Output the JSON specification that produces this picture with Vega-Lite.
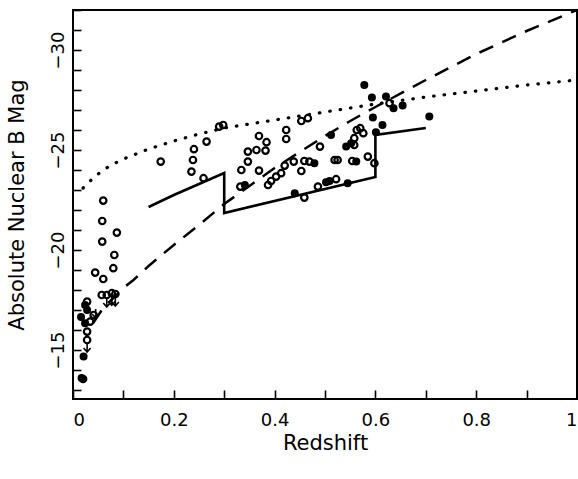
{
  "$schema": "https://vega.github.io/schema/vega-lite/v6.json",
  "width": 504,
  "height": 389,
  "autosize": "none",
  "padding": {"left": 73, "top": 10, "right": 1, "bottom": 80},
  "background": "white",
  "config": {
    "view": {"stroke": "black", "strokeWidth": 2},
    "axis": {
      "domain": false, "grid": false,
      "labelFont": "DejaVu Sans", "titleFont": "DejaVu Sans",
      "labelColor": "black", "titleColor": "black", "tickColor": "black",
      "labelFontSize": 18, "titleFontSize": 21, "titleFontWeight": "normal",
      "tickWidth": 1.6
    }
  },
  "datasets": {
    "dotted": [
      {"z": 0.02, "mag": -23.1}, {"z": 0.04, "mag": -23.6}, {"z": 0.06, "mag": -24.0},
      {"z": 0.08, "mag": -24.3}, {"z": 0.1, "mag": -24.55}, {"z": 0.15, "mag": -25.05},
      {"z": 0.2, "mag": -25.45}, {"z": 0.25, "mag": -25.8}, {"z": 0.3, "mag": -26.1},
      {"z": 0.35, "mag": -26.3}, {"z": 0.4, "mag": -26.5}, {"z": 0.45, "mag": -26.7},
      {"z": 0.5, "mag": -26.9}, {"z": 0.6, "mag": -27.3}, {"z": 0.7, "mag": -27.65},
      {"z": 0.8, "mag": -27.95}, {"z": 0.9, "mag": -28.25}, {"z": 1.0, "mag": -28.5}
    ],
    "dashed": [
      {"z": 0.04, "mag": -16.35}, {"z": 0.06, "mag": -17.1}, {"z": 0.08, "mag": -17.6},
      {"z": 0.1, "mag": -18.1}, {"z": 0.12, "mag": -18.5}, {"z": 0.15, "mag": -19.2},
      {"z": 0.2, "mag": -20.25}, {"z": 0.25, "mag": -21.25}, {"z": 0.3, "mag": -22.3},
      {"z": 0.35, "mag": -23.2}, {"z": 0.4, "mag": -24.1}, {"z": 0.45, "mag": -24.9},
      {"z": 0.5, "mag": -25.7}, {"z": 0.55, "mag": -26.45}, {"z": 0.6, "mag": -27.15},
      {"z": 0.7, "mag": -28.5}, {"z": 0.8, "mag": -29.8}, {"z": 0.9, "mag": -30.95},
      {"z": 1.0, "mag": -32.0}
    ],
    "solid": [
      {"i": 1, "z": 0.15, "mag": -22.15}, {"i": 2, "z": 0.2, "mag": -22.75},
      {"i": 3, "z": 0.25, "mag": -23.3}, {"i": 4, "z": 0.3, "mag": -23.85},
      {"i": 5, "z": 0.3, "mag": -21.85}, {"i": 6, "z": 0.6, "mag": -23.65},
      {"i": 7, "z": 0.6, "mag": -25.75}, {"i": 8, "z": 0.7, "mag": -26.1}
    ],
    "open": [
      {"z": 0.174, "mag": -24.42}, {"z": 0.24, "mag": -25.04}, {"z": 0.238, "mag": -24.5},
      {"z": 0.235, "mag": -23.92}, {"z": 0.29, "mag": -26.17}, {"z": 0.298, "mag": -26.25},
      {"z": 0.265, "mag": -25.42}, {"z": 0.259, "mag": -23.59}, {"z": 0.369, "mag": -25.7},
      {"z": 0.384, "mag": -25.39}, {"z": 0.347, "mag": -24.92}, {"z": 0.364, "mag": -25.0},
      {"z": 0.382, "mag": -24.97}, {"z": 0.347, "mag": -24.42}, {"z": 0.334, "mag": -24.0},
      {"z": 0.369, "mag": -23.97}, {"z": 0.332, "mag": -23.17}, {"z": 0.387, "mag": -23.25},
      {"z": 0.453, "mag": -26.45}, {"z": 0.466, "mag": -26.59}, {"z": 0.423, "mag": -26.0},
      {"z": 0.423, "mag": -25.55}, {"z": 0.49, "mag": -25.17}, {"z": 0.558, "mag": -25.59},
      {"z": 0.563, "mag": -26.0}, {"z": 0.438, "mag": -24.42}, {"z": 0.42, "mag": -24.22},
      {"z": 0.413, "mag": -23.84}, {"z": 0.403, "mag": -23.67}, {"z": 0.393, "mag": -23.45},
      {"z": 0.459, "mag": -24.45}, {"z": 0.469, "mag": -24.42}, {"z": 0.453, "mag": -23.95},
      {"z": 0.519, "mag": -24.5}, {"z": 0.525, "mag": -24.5}, {"z": 0.554, "mag": -24.45},
      {"z": 0.459, "mag": -22.62}, {"z": 0.486, "mag": -23.17}, {"z": 0.522, "mag": -23.54},
      {"z": 0.628, "mag": -27.34}, {"z": 0.57, "mag": -26.09}, {"z": 0.576, "mag": -25.84},
      {"z": 0.558, "mag": -25.25}, {"z": 0.585, "mag": -24.67}, {"z": 0.598, "mag": -24.34},
      {"z": 0.06, "mag": -22.47}, {"z": 0.058, "mag": -21.45}, {"z": 0.087, "mag": -20.87},
      {"z": 0.058, "mag": -20.42}, {"z": 0.082, "mag": -19.75}, {"z": 0.08, "mag": -19.09},
      {"z": 0.044, "mag": -18.87}, {"z": 0.06, "mag": -18.55}, {"z": 0.057, "mag": -17.75},
      {"z": 0.067, "mag": -17.75}, {"z": 0.077, "mag": -17.84}, {"z": 0.084, "mag": -17.8},
      {"z": 0.028, "mag": -17.42}, {"z": 0.041, "mag": -16.75}, {"z": 0.034, "mag": -16.42},
      {"z": 0.028, "mag": -15.92}, {"z": 0.028, "mag": -15.5}, {"z": 0.02, "mag": -13.55}
    ],
    "filled": [
      {"z": 0.341, "mag": -23.25}, {"z": 0.512, "mag": -25.75}, {"z": 0.542, "mag": -25.17},
      {"z": 0.552, "mag": -25.34}, {"z": 0.479, "mag": -24.34}, {"z": 0.562, "mag": -24.42},
      {"z": 0.44, "mag": -22.84}, {"z": 0.502, "mag": -23.39}, {"z": 0.509, "mag": -23.45},
      {"z": 0.545, "mag": -23.34}, {"z": 0.578, "mag": -28.25}, {"z": 0.593, "mag": -27.62},
      {"z": 0.621, "mag": -27.67}, {"z": 0.636, "mag": -27.09}, {"z": 0.654, "mag": -27.22},
      {"z": 0.707, "mag": -26.67}, {"z": 0.595, "mag": -26.62}, {"z": 0.614, "mag": -26.25},
      {"z": 0.601, "mag": -25.89}, {"z": 0.024, "mag": -17.25}, {"z": 0.028, "mag": -17.0},
      {"z": 0.016, "mag": -16.65}, {"z": 0.024, "mag": -16.34}, {"z": 0.021, "mag": -14.67},
      {"z": 0.017, "mag": -13.6}
    ],
    "limits": [
      {"z": 0.067, "mag": -17.75}, {"z": 0.077, "mag": -17.84}, {"z": 0.084, "mag": -17.8},
      {"z": 0.045, "mag": -17.2}, {"z": 0.028, "mag": -15.5}
    ]
  },
  "layer": [
    {
      "data": {"name": "dotted"},
      "mark": {"type": "line", "strokeDash": [0.5, 10], "strokeWidth": 3.2, "strokeCap": "round", "color": "black"},
      "encoding": {
        "x": {"field": "z", "type": "quantitative",
              "scale": {"domain": [0, 1], "nice": false, "zero": false},
              "axis": {"orient": "bottom", "values": [0, 0.1, 0.2, 0.3, 0.4, 0.5, 0.6, 0.7, 0.8, 0.9, 1], "format": "~g",
                       "labelExpr": "round(datum.value * 10) % 2 == 0 ? datum.label : ''",
                       "ticks": true, "tickSize": 9, "offset": -9, "labelPadding": 12, "title": "Redshift",
                       "titleBaseline": "middle", "titleY": 53}},
        "y": {"field": "mag", "type": "quantitative",
              "scale": {"domain": [-32, -12.55], "reverse": true, "nice": false, "zero": false},
              "axis": {"orient": "left",
                       "values": [-32, -31, -30, -29, -28, -27, -26, -25, -24, -23, -22, -21, -20, -19, -18, -17, -16, -15, -14, -13],
                       "labelExpr": "datum.value % 5 == 0 ? datum.label : ''",
                       "ticks": true, "tickSize": 8, "offset": -8,
                       "labelAngle": -90, "labelAlign": "center", "labelBaseline": "alphabetic",
                       "labelPadding": 10, "title": "Absolute Nuclear B Mag",
                       "titleAngle": -90, "titleBaseline": "middle", "titleX": -64}}
      }
    },
    {
      "data": {"name": "dashed"},
      "mark": {"type": "line", "strokeDash": [15, 10], "strokeWidth": 2.5, "color": "black"},
      "encoding": {
        "x": {"field": "z", "type": "quantitative", "scale": {"domain": [0, 1], "nice": false, "zero": false}, "axis": null},
        "y": {"field": "mag", "type": "quantitative", "scale": {"domain": [-32, -12.55], "reverse": true, "nice": false, "zero": false}, "axis": null}
      }
    },
    {
      "data": {"name": "solid"},
      "mark": {"type": "line", "strokeWidth": 2.6, "color": "black"},
      "encoding": {
        "x": {"field": "z", "type": "quantitative", "scale": {"domain": [0, 1], "nice": false, "zero": false}, "axis": null},
        "y": {"field": "mag", "type": "quantitative", "scale": {"domain": [-32, -12.55], "reverse": true, "nice": false, "zero": false}, "axis": null},
        "order": {"field": "i", "type": "quantitative"}
      }
    },
    {
      "data": {"name": "open"},
      "mark": {"type": "point", "shape": "circle", "filled": false, "size": 42, "strokeWidth": 2.2, "color": "black", "opacity": 1},
      "encoding": {
        "x": {"field": "z", "type": "quantitative", "scale": {"domain": [0, 1], "nice": false, "zero": false}, "axis": null},
        "y": {"field": "mag", "type": "quantitative", "scale": {"domain": [-32, -12.55], "reverse": true, "nice": false, "zero": false}, "axis": null}
      }
    },
    {
      "data": {"name": "filled"},
      "mark": {"type": "point", "shape": "circle", "filled": true, "size": 64, "color": "black", "opacity": 1},
      "encoding": {
        "x": {"field": "z", "type": "quantitative", "scale": {"domain": [0, 1], "nice": false, "zero": false}, "axis": null},
        "y": {"field": "mag", "type": "quantitative", "scale": {"domain": [-32, -12.55], "reverse": true, "nice": false, "zero": false}, "axis": null}
      }
    },
    {
      "data": {"name": "limits"},
      "mark": {"type": "point", "shape": "M0,0.6L0,2.4M-0.7,1.6L0,2.4L0.7,1.6", "filled": false, "size": 100, "strokeWidth": 1.6, "color": "black", "opacity": 1},
      "encoding": {
        "x": {"field": "z", "type": "quantitative", "scale": {"domain": [0, 1], "nice": false, "zero": false}, "axis": null},
        "y": {"field": "mag", "type": "quantitative", "scale": {"domain": [-32, -12.55], "reverse": true, "nice": false, "zero": false}, "axis": null}
      }
    }
  ],
  "resolve": {"axis": {"x": "independent", "y": "independent"}}
}
